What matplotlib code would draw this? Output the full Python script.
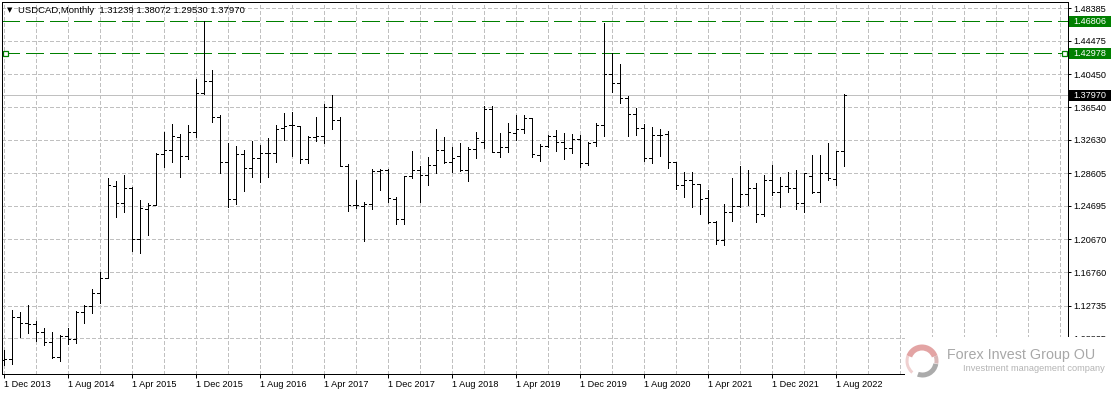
import matplotlib
matplotlib.use("Agg")
import matplotlib.pyplot as plt
from matplotlib.patches import Rectangle, Wedge
from matplotlib import font_manager
import numpy as np

# ---------------- data ----------------
symbol_title = "USDCAD,Monthly"
ohlc_title = "1.31239 1.38072 1.29530 1.37970"

opens = [
    1.0620, 1.0636, 1.1134, 1.1062, 1.1055, 1.0960, 1.0842, 1.0662, 1.0905, 1.0875,
    1.1201, 1.1273, 1.1422, 1.1602, 1.2708, 1.2501, 1.2681, 1.2069, 1.2433, 1.2480,
    1.3092, 1.3140, 1.3299, 1.3068, 1.3352, 1.3819, 1.3967, 1.3539, 1.2992, 1.2549,
    1.3092, 1.2920, 1.3040, 1.3100, 1.3108, 1.3400, 1.3436, 1.3428, 1.3028, 1.3299,
    1.3311, 1.3652, 1.3499, 1.2952, 1.2480, 1.2469, 1.2493, 1.2888, 1.2900, 1.2552,
    1.2309, 1.2832, 1.2900, 1.2840, 1.2960, 1.3140, 1.3000, 1.3068, 1.2900, 1.3152,
    1.3239, 1.3631, 1.3120, 1.3170, 1.3340, 1.3392, 1.3520, 1.3075, 1.3192, 1.3308,
    1.3232, 1.3160, 1.3268, 1.2980, 1.3239, 1.3440, 1.4047, 1.3939, 1.3768, 1.3568,
    1.3400, 1.3040, 1.3316, 1.3328, 1.2992, 1.2716, 1.2780, 1.2732, 1.2560, 1.2281,
    1.2061, 1.2393, 1.2469, 1.2612, 1.2681, 1.2373, 1.2780, 1.2640, 1.2708, 1.2681,
    1.2508, 1.2828, 1.2640, 1.2868, 1.2790, 1.31239]
highs = [
    1.0742, 1.1222, 1.1194, 1.1282, 1.1085, 1.1010, 1.0954, 1.0922, 1.1010, 1.1210,
    1.1282, 1.1470, 1.1674, 1.2800, 1.2768, 1.2840, 1.2693, 1.2540, 1.2500, 1.3108,
    1.3352, 1.3452, 1.3328, 1.3440, 1.3991, 1.4686, 1.4099, 1.3560, 1.3220, 1.3188,
    1.3140, 1.3251, 1.3200, 1.3280, 1.3440, 1.3580, 1.3592, 1.3428, 1.3311, 1.3532,
    1.3691, 1.3799, 1.3539, 1.2972, 1.2780, 1.2520, 1.2908, 1.2912, 1.2912, 1.2580,
    1.2832, 1.3128, 1.2952, 1.3052, 1.3392, 1.3299, 1.3180, 1.3220, 1.3172, 1.3359,
    1.3671, 1.3667, 1.3347, 1.3467, 1.3559, 1.3559, 1.3520, 1.3212, 1.3320, 1.3380,
    1.3340, 1.3328, 1.3320, 1.3239, 1.3460, 1.4666, 1.4299, 1.4171, 1.3791, 1.3640,
    1.3452, 1.3419, 1.3392, 1.3368, 1.2992, 1.2872, 1.2872, 1.2732, 1.2660, 1.2293,
    1.2492, 1.2800, 1.2948, 1.2900, 1.2741, 1.2840, 1.2960, 1.2820, 1.2872, 1.2900,
    1.2867, 1.3080, 1.3080, 1.3222, 1.3131, 1.38072]
lows = [
    1.0562, 1.0574, 1.0902, 1.0950, 1.0855, 1.0802, 1.0643, 1.0614, 1.0811, 1.0822,
    1.1070, 1.1190, 1.1310, 1.1602, 1.2340, 1.2400, 1.1933, 1.1909, 1.2121, 1.2480,
    1.2940, 1.3000, 1.2820, 1.3032, 1.3292, 1.3810, 1.3479, 1.2860, 1.2460, 1.2490,
    1.2652, 1.2820, 1.2760, 1.2820, 1.2999, 1.3260, 1.3072, 1.2980, 1.2980, 1.3251,
    1.3220, 1.3388, 1.2952, 1.2412, 1.2441, 1.2053, 1.2429, 1.2660, 1.2513, 1.2249,
    1.2249, 1.2800, 1.2520, 1.2720, 1.2860, 1.2980, 1.2880, 1.2892, 1.2772, 1.3040,
    1.3160, 1.3112, 1.3060, 1.3120, 1.3260, 1.3347, 1.3052, 1.3012, 1.3180, 1.3128,
    1.3032, 1.3107, 1.2940, 1.2960, 1.3192, 1.3311, 1.3839, 1.3707, 1.3311, 1.3320,
    1.3012, 1.2988, 1.3072, 1.2920, 1.2672, 1.2580, 1.2460, 1.2369, 1.2261, 1.2009,
    1.2001, 1.2292, 1.2453, 1.2480, 1.2281, 1.2349, 1.2600, 1.2453, 1.2640, 1.2429,
    1.2400, 1.2628, 1.2513, 1.2785, 1.2720, 1.29530]
closes = [
    1.0634, 1.1134, 1.1062, 1.1055, 1.0960, 1.0842, 1.0662, 1.0905, 1.0875, 1.1201,
    1.1273, 1.1422, 1.1602, 1.2720, 1.2501, 1.2681, 1.2069, 1.2441, 1.2480, 1.3092,
    1.3140, 1.3311, 1.3068, 1.3352, 1.3819, 1.3967, 1.3539, 1.2992, 1.2549, 1.3092,
    1.2920, 1.3040, 1.3100, 1.3108, 1.3392, 1.3428, 1.3436, 1.3028, 1.3299, 1.3311,
    1.3652, 1.3499, 1.2952, 1.2480, 1.2480, 1.2493, 1.2888, 1.2900, 1.2568, 1.2309,
    1.2832, 1.2900, 1.2840, 1.2960, 1.3140, 1.3000, 1.3048, 1.2900, 1.3152, 1.3280,
    1.3631, 1.3120, 1.3180, 1.3352, 1.3392, 1.3520, 1.3088, 1.3192, 1.3308, 1.3232,
    1.3160, 1.3268, 1.2980, 1.3227, 1.3440, 1.4047, 1.3939, 1.3760, 1.3568, 1.3400,
    1.3040, 1.3316, 1.3316, 1.2992, 1.2720, 1.2780, 1.2732, 1.2552, 1.2281, 1.2061,
    1.2393, 1.2469, 1.2612, 1.2681, 1.2373, 1.2780, 1.2640, 1.2708, 1.2681, 1.2508,
    1.2860, 1.2640, 1.2860, 1.2800, 1.3128, 1.37970]

x_labels = ["1 Dec 2013", "1 Aug 2014", "1 Apr 2015", "1 Dec 2015", "1 Aug 2016",
            "1 Apr 2017", "1 Dec 2017", "1 Aug 2018", "1 Apr 2019", "1 Dec 2019",
            "1 Aug 2020", "1 Apr 2021", "1 Dec 2021", "1 Aug 2022"]
y_ticks = [1.48385, 1.44475, 1.40450, 1.36540, 1.32630, 1.28605, 1.24695,
           1.20670, 1.16760, 1.12735, 1.08825]
level_lines = [1.46806, 1.42978]
last_price = 1.37970
brand = "Forex Invest Group OU"
brand_sub = "Investment management company"

# ---------------- layout ----------------
W, H = 1114, 395
fig = plt.figure(figsize=(W / 100, H / 100), dpi=100)
fig.patch.set_facecolor("white")

AX_L, AX_R, AX_T, AX_B = 2, 1068, 2, 374
ax = fig.add_axes([AX_L / W, (H - AX_B) / H, (AX_R - AX_L) / W, (AX_B - AX_T) / H])
ax.set_facecolor("white")

def fx(px):
    return px / W

def fy(py):
    return 1 - py / H

BAR0_PX, BAR_STEP = 3.5, 8.0
ax.set_xlim((AX_L - BAR0_PX) / BAR_STEP, (AX_R - BAR0_PX) / BAR_STEP)
P0, DP = 1.49380, 0.0011988   # price at pixel row 0, price per pixel
ax.set_ylim(P0 - DP * AX_B, P0 - DP * AX_T)

for s in ax.spines.values():
    s.set_color("black")
    s.set_linewidth(0.72)

GRID = "#c0c0c0"
n = len(opens)
xs = np.arange(n)

# grid
for k in range(0, 140, 4):
    ax.axvline(k, color=GRID, lw=0.72, dashes=(3, 2.5), zorder=1, antialiased=False)
for v in y_ticks:
    ax.axhline(v, color=GRID, lw=0.72, dashes=(3, 2.5), zorder=1, antialiased=False)

# level lines and bid line
for v in level_lines:
    ax.axhline(v, color="#008000", lw=0.72, dashes=(18, 6), zorder=2, antialiased=False)
ax.axhline(last_price, color="#c0c0c0", lw=0.72, zorder=2, antialiased=False)
ax.plot([0.15, 132.6], [level_lines[1]] * 2, ls="none", marker="s", ms=3.6,
        mfc="white", mec="#008000", mew=0.9, zorder=3, clip_on=False)

# OHLC bars
tick = 0.33
ax.vlines(xs, lows, highs, color="black", lw=0.72, zorder=4, antialiased=False)
ax.hlines(opens, xs - tick, xs, color="black", lw=0.72, zorder=4, antialiased=False)
ax.hlines(closes, xs, xs + tick, color="black", lw=0.72, zorder=4, antialiased=False)

# axes ticks/labels
FONT = ["Liberation Sans", "DejaVu Sans"]
ax.yaxis.tick_right()
ax.set_yticks(y_ticks)
ax.set_yticklabels([f"{v:.5f}" for v in y_ticks], fontsize=6.6, family=FONT)
ax.tick_params(axis="y", length=2.3, width=0.72, pad=1.5, colors="black")
xpos = list(range(0, 8 * len(x_labels), 8))
ax.set_xticks(xpos)
ax.set_xticklabels(x_labels, fontsize=6.6, family=FONT, ha="left")
ax.tick_params(axis="x", length=2.9, width=0.72, pad=1.2, colors="black")

# title
fig.text(fx(10), fy(10), "\u25BC", fontsize=5, family="DejaVu Sans", ha="center", va="center")
fig.text(fx(18), fy(10.5), symbol_title + "  " + ohlc_title, fontsize=6.8, family=FONT,
         ha="left", va="center")

# price boxes on right axis
def ypix(v):
    return H - ax.transData.transform((0, v))[1]

for v, col in [(level_lines[0], "#008000"), (level_lines[1], "#008000"), (last_price, "black")]:
    yp = ypix(v)
    fig.add_artist(Rectangle((fx(1069), fy(yp + 5.5)), fx(42), 11 / H, transform=fig.transFigure,
                             facecolor=col, edgecolor="none", zorder=5))
    fig.text(fx(1073), fy(yp), f"{v:.5f}", fontsize=6.6, family=FONT, color="white",
             ha="left", va="center", zorder=6)

# watermark logo box
fig.add_artist(Rectangle((fx(905), 0), fx(W - 905), fy(336.5), transform=fig.transFigure,
                         facecolor="white", edgecolor="none", zorder=7))
logo_ax = fig.add_axes([fx(922 - 18), fy(361 + 18), fx(36), 36 / H], zorder=8)
logo_ax.set_xlim(-18, 18)
logo_ax.set_ylim(-18, 18)
logo_ax.set_aspect("equal")
logo_ax.axis("off")
logo_ax.add_patch(Wedge((0, 0), 16.5, 20, 160, width=6, facecolor="#e3a4a4", edgecolor="none"))
logo_ax.add_patch(Wedge((0, 0), 16.5, 160, 230, width=3, facecolor="#efd0d0", edgecolor="none"))
logo_ax.add_patch(Wedge((0.5, -0.5), 16, 250, 350, width=5, facecolor="#ababab", edgecolor="none"))
logo_ax.add_patch(Wedge((0, 0), 16.5, 350, 380, width=4, facecolor="#d8b8b8", edgecolor="none"))

names = {f.name for f in font_manager.fontManager.ttflist}
if "Liberation Sans Narrow" in names:
    bfam, bsize = "Liberation Sans Narrow", 12.0
elif "DejaVu Sans Condensed" in names:
    bfam, bsize = "DejaVu Sans Condensed", 10.6
else:
    bfam, bsize = "Liberation Sans", 10.3
fig.text(fx(947), fy(355.5), brand, fontsize=bsize, family=bfam, color="#a8a8a8",
         ha="left", va="center", zorder=9)
fig.text(fx(963), fy(368.5), brand_sub, fontsize=6.7, family=FONT, color="#b4b4b4",
         ha="left", va="center", zorder=9)

fig.savefig("out.png", dpi=100, facecolor="white")
